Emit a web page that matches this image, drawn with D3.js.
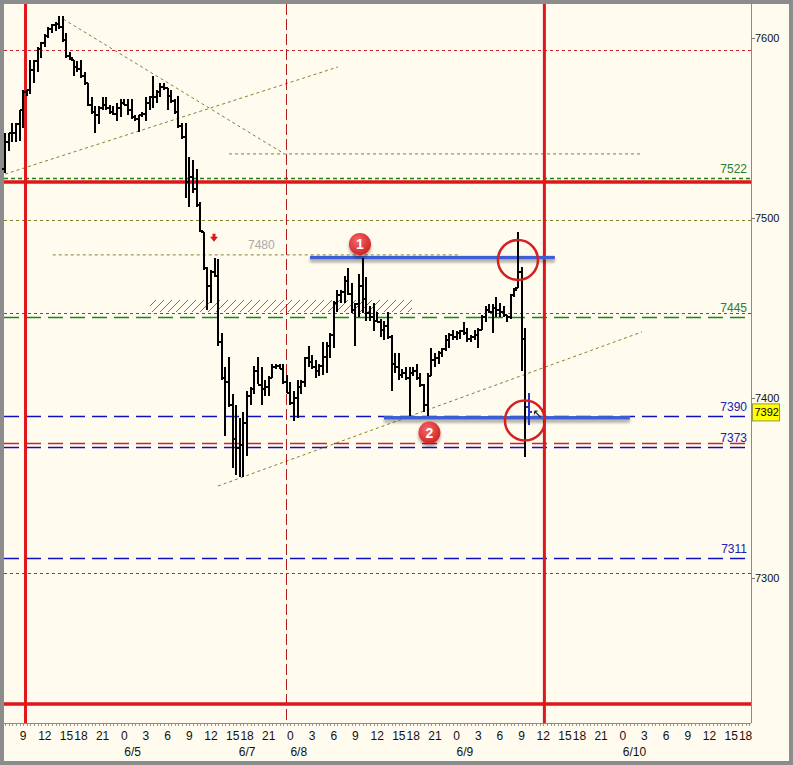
<!DOCTYPE html>
<html><head><meta charset="utf-8">
<script src="https://cdn.jsdelivr.net/npm/d3@7"></script>
<style>body{margin:0;background:#8c8c8c}svg{display:block}</style>
</head><body><svg id="c" width="793" height="765"></svg>
<script>
// ---------- DATA ----------
// 30-minute OHLC bars, first bar at trading-hour index -2.5 (6/4 06:30); x unit = trading hour from 6/4 09:00
const barStartSlot = -2.5;
const barStep = 0.5;
const opens = [7527,7542,7547,7547,7552,7560,7570,7571,7582,7587,7594,7597,7601,7605,7607,7608,7606,7599,7590,7588,
7584,7583,7579,7575,7563,7559,7557,7561,7563,7561,7559,7558,7561,7564,7563,7560,7556,7555,7557,7558,
7564,7567,7567,7570,7573,7572,7568,7565,7559,7551,7545,7520,7523,7516,7507,7492,7472,7462,7470,7468,
7431,7411,7409,7396,7377,7372,7374,7386,7401,7405,7415,7407,7405,7406,7411,7417,7418,7416,7409,7403,
7397,7400,7406,7409,7422,7420,7417,7415,7418,7423,7429,7435,7453,7457,7459,7465,7458,7449,7452,7462,
7455,7447,7445,7443,7442,7438,7440,7434,7419,7417,7413,7414,7411,7414,7415,7411,7407,7396,7412,7421,
7422,7425,7427,7432,7435,7434,7436,7437,7436,7433,7434,7435,7438,7445,7449,7448,7450,7449,7448,7446,
7445,7457,7461,7470,7433,7395];
const highs = [7547,7547,7553,7553,7560,7571,7571,7588,7588,7595,7598,7602,7606,7608,7609,7612,7612,7603,7592,7588,
7587,7588,7581,7575,7567,7562,7562,7567,7567,7563,7562,7564,7566,7566,7566,7566,7557,7557,7559,7567,
7568,7579,7571,7575,7575,7572,7571,7566,7568,7553,7553,7534,7532,7527,7509,7492,7473,7471,7478,7477,
7436,7417,7423,7402,7396,7389,7392,7404,7406,7418,7423,7417,7410,7412,7419,7419,7419,7419,7413,7409,
7404,7410,7410,7423,7429,7424,7421,7419,7431,7431,7436,7454,7460,7460,7468,7472,7464,7453,7469,7478,
7467,7451,7453,7448,7444,7443,7448,7435,7425,7425,7416,7417,7417,7417,7419,7414,7408,7414,7428,7425,
7426,7428,7435,7436,7438,7437,7438,7442,7439,7435,7438,7439,7446,7451,7452,7452,7456,7453,7451,7446,
7458,7461,7492,7473,7439,7403];
const lows = [7525,7537,7542,7542,7543,7550,7568,7569,7575,7581,7589,7595,7600,7603,7604,7605,7598,7589,7588,7579,
7581,7578,7574,7562,7558,7547,7552,7560,7560,7558,7557,7554,7556,7563,7557,7555,7554,7548,7556,7554,
7560,7561,7564,7567,7571,7560,7564,7558,7550,7544,7511,7506,7514,7506,7492,7471,7449,7453,7467,7429,
7410,7379,7395,7361,7357,7356,7356,7368,7396,7402,7408,7396,7401,7401,7411,7416,7416,7408,7403,7396,
7387,7389,7402,7406,7417,7416,7411,7412,7413,7414,7422,7428,7448,7453,7453,7457,7447,7429,7445,7447,
7443,7443,7437,7442,7434,7432,7433,7404,7414,7410,7411,7410,7390,7412,7410,7406,7392,7390,7412,7417,
7419,7423,7426,7428,7432,7432,7433,7435,7431,7431,7432,7428,7438,7442,7447,7436,7445,7445,7445,7442,
7444,7456,7461,7415,7367,7385];
const closes = [7542,7547,7547,7552,7560,7570,7571,7582,7587,7594,7597,7601,7605,7607,7608,7606,7599,7590,7589,7584,
7583,7579,7575,7563,7559,7557,7561,7563,7561,7559,7558,7561,7564,7563,7560,7556,7555,7557,7558,7564,
7567,7567,7570,7573,7572,7568,7565,7559,7551,7545,7520,7523,7516,7507,7493,7472,7462,7470,7468,7431,
7411,7409,7396,7377,7372,7374,7386,7401,7405,7415,7407,7405,7406,7411,7417,7418,7416,7409,7403,7397,
7400,7406,7409,7422,7420,7417,7415,7418,7423,7429,7435,7453,7457,7459,7465,7458,7449,7452,7462,7455,
7447,7445,7443,7442,7438,7440,7434,7419,7417,7413,7414,7411,7414,7415,7411,7407,7396,7412,7421,7422,
7425,7427,7432,7435,7434,7436,7437,7436,7433,7434,7435,7438,7445,7449,7448,7450,7449,7448,7446,7445,
7457,7460,7470,7433,7395,7392];
const lastPrice = 7392;

// axis labels
const priceTicks = [7600, 7500, 7400, 7300];
// trading sessions (hours that have bars); hour 17 is the daily break
const sessionDays = ["6/4","6/5","6/7","6/8","6/9","6/10"];
const sessionHours = {
  "6/4": [0,1,2,3,4,5,6,7,8,9,10,11,12,13,14,15,16,18,19,20,21,22,23],
  "6/5": [0,1,2,3,4,5,6,7,8,9,10,11,12,13,14,15,16],
  "6/7": [18,19,20,21,22,23],
  "6/8": [0,1,2,3,4,5,6,7,8,9,10,11,12,13,14,15,16,18,19,20,21,22,23],
  "6/9": [0,1,2,3,4,5,6,7,8,9,10,11,12,13,14,15,16,18,19,20,21,22,23],
  "6/10":[0,1,2,3,4,5,6,7,8,9,10,11,12,13,14,15,16,18,19,20,21,22,23]
};
const hourTicks = [["6/4",9],["6/4",12],["6/4",15],["6/4",18],["6/4",21],
  ["6/5",0],["6/5",3],["6/5",6],["6/5",9],["6/5",12],["6/5",15],["6/7",18],["6/7",21],
  ["6/8",0],["6/8",3],["6/8",6],["6/8",9],["6/8",12],["6/8",15],["6/8",18],["6/8",21],
  ["6/9",0],["6/9",3],["6/9",6],["6/9",9],["6/9",12],["6/9",15],["6/9",18],["6/9",21],
  ["6/10",0],["6/10",3],["6/10",6],["6/10",9],["6/10",12],["6/10",15],["6/10",18]];
const dateLabels = [["6/5",0,"start"],["6/7",18,"middle"],["6/8",0,"start"],["6/9",0,"start"],["6/10",0,"start"]];

// levels
const redThickLevels = [7520, 7230];
const redThickTimes = [0.33, 72.15];
const redDashTimes = [36.4];
const redDottedLevels = [7593.3, 7447.2, 7302.8];
const redDashedLevels = [7375];
const oliveFullLevels = [7499];
const greenLevels = [7522, 7445];
const greenLabels = ["7522", "7445"];
const blueLevels = [7390, 7373, 7311];
const blueLabels = ["7390", "7373", "7311"];
const oliveSegments = [[28.5, 7535.6, 85.65, 7535.6], [4.1, 7479.5, 60.5, 7479.5],
  [5.56, 7610.5, 35.97, 7536.1], [-2.5, 7524.4, 43.58, 7583.9], [26.97, 7351.1, 85.65, 7436.7]];
const hatchZone = [17.56, 53.82, 7454.4, 7447.8];
const blueSegments = [[39.7, 73.6, 7478], [49.94, 83.99, 7389]];
const circleMarks = [[68.49, 7476.7], [69.46, 7387.5]];
const badges = [[46.62, 7485.6, "1"], [56.24, 7380.8, "2"]];
const redArrow = [26.42, 7489];
const grayNote = [31.12, 7484.4, "7480"];
const cursorMark = [71.2, 7391];

// ---------- helpers ----------
const allSlots = [];
sessionDays.forEach(d => sessionHours[d].forEach(h => allSlots.push(d + " " + h)));
const originIdx = allSlots.indexOf("6/4 9");
const slotOf = (d, h) => allSlots.indexOf(d + " " + h) - originIdx;

const svg = d3.select("#c");
const W = 793, H = 765;
const L = 4, R = 751, T = 4, B = 723;
const x = d3.scaleLinear().domain([-2.65, 100.75]).range([L, R]);
const y = d3.scaleLinear().domain([7600, 7300]).range([38, 578]);
const font = "'Liberation Sans', Arial, sans-serif";

const defs = svg.append("defs");
const pat = defs.append("pattern").attr("id","hatch").attr("patternUnits","userSpaceOnUse")
  .attr("width",8).attr("height",8);
pat.append("path").attr("d","M-1,9 L9,-1 M-1,1 L1,-1 M7,9 L9,7").attr("stroke","#3a9a3a").attr("stroke-width",1);
function makeShadow(id, userSpace) {
  const f = defs.append("filter").attr("id", id);
  if (userSpace) f.attr("filterUnits","userSpaceOnUse").attr("x",0).attr("y",0).attr("width",W).attr("height",H);
  else f.attr("x","-50%").attr("y","-50%").attr("width","200%").attr("height","200%");
  f.append("feGaussianBlur").attr("in","SourceAlpha").attr("stdDeviation",1.6).attr("result","b");
  f.append("feOffset").attr("in","b").attr("dy",3).attr("result","o");
  f.append("feComponentTransfer").attr("in","o").attr("result","o2").append("feFuncA").attr("type","linear").attr("slope",0.35);
  const mm = f.append("feMerge"); mm.append("feMergeNode").attr("in","o2"); mm.append("feMergeNode").attr("in","SourceGraphic");
}
makeShadow("shadow", true);
makeShadow("shadowB", false);
const rg = defs.append("radialGradient").attr("id","badge").attr("cx","40%").attr("cy","35%").attr("r","65%");
rg.append("stop").attr("offset","0%").attr("stop-color","#f46a6a");
rg.append("stop").attr("offset","100%").attr("stop-color","#d42424");

// background
svg.append("rect").attr("x",0).attr("y",0).attr("width",W).attr("height",H).attr("fill","#8c8c8c");
svg.append("rect").attr("x",4).attr("y",4).attr("width",785).attr("height",757).attr("fill","#fffbef");

const plot = svg.append("g");
const hline = (v, color, dash, w, x1 = L, x2 = R) => plot.append("line")
  .attr("x1", x1).attr("x2", x2).attr("y1", Math.round(y(v)) + 0.5).attr("y2", Math.round(y(v)) + 0.5)
  .attr("stroke", color).attr("stroke-width", w).attr("stroke-dasharray", dash);

// hatch zone
plot.append("rect").attr("x", x(hatchZone[0])).attr("width", x(hatchZone[1]) - x(hatchZone[0]))
  .attr("y", y(hatchZone[2])).attr("height", y(hatchZone[3]) - y(hatchZone[2])).attr("fill","url(#hatch)");

// horizontal levels
oliveFullLevels.forEach(v => hline(v, "#80822a", "3,3", 1));
redDottedLevels.forEach(v => hline(v, "#c8242a", "3,3", 1));
redDashedLevels.forEach(v => hline(v, "#d42020", "15,7", 1.4));
greenLevels.forEach((v, i) => hline(v, "#118a11", i === 0 ? "4,3" : "15,7", 1.4));
blueLevels.forEach(v => hline(v, "#1010c0", "15,7", 1.4));

// olive dotted segments / trendlines
oliveSegments.forEach(s => plot.append("line").attr("x1", x(s[0])).attr("y1", y(s[1])).attr("x2", x(s[2])).attr("y2", y(s[3]))
  .attr("stroke","#80822a").attr("stroke-width",1).attr("stroke-dasharray","3,3"));

// vertical lines
redDashTimes.forEach(t => plot.append("line").attr("x1", Math.round(x(t))+0.5).attr("x2", Math.round(x(t))+0.5).attr("y1", T).attr("y2", B)
  .attr("stroke","#b01c1c").attr("stroke-width",1).attr("stroke-dasharray","11,4").attr("shape-rendering","crispEdges"));
redThickTimes.forEach(t => plot.append("line").attr("x1", x(t)).attr("x2", x(t)).attr("y1", T).attr("y2", B)
  .attr("stroke","#e0161b").attr("stroke-width",3));
redThickLevels.forEach(v => plot.append("line").attr("x1", L).attr("x2", R).attr("y1", y(v)).attr("y2", y(v))
  .attr("stroke","#e0161b").attr("stroke-width",3.5));

// level labels
greenLevels.forEach((v, i) => plot.append("text").attr("x", 747).attr("y", y(v) - 5).attr("text-anchor","end")
  .attr("font-family", font).attr("font-size", 12).attr("fill", "#2a7d2a").text(greenLabels[i]));
blueLevels.forEach((v, i) => plot.append("text").attr("x", 747).attr("y", y(v) - 5).attr("text-anchor","end")
  .attr("font-family", font).attr("font-size", 12).attr("fill", "#2020b0").text(blueLabels[i]));
plot.append("text").attr("x", x(grayNote[0])).attr("y", y(grayNote[1])).attr("dominant-baseline","middle")
  .attr("font-family", font).attr("font-size", 12).attr("fill", "#a9a9a9").text(grayNote[2]);

// blue thick segments (with soft shadow)
blueSegments.forEach(s => plot.append("rect").attr("x", x(s[0])).attr("width", x(s[1]) - x(s[0]))
  .attr("y", y(s[2]) - 1.75).attr("height", 3.5)
  .attr("fill","#3d5fd4").attr("filter","url(#shadow)"));

// OHLC bars
const bars = opens.map((o, k) => ({t: barStartSlot + barStep * k, o, h: highs[k], l: lows[k], c: closes[k]}));
plot.append("g").selectAll("path").data(bars).join("path")
  .attr("d", d => {
    const cx = Math.round(x(d.t));
    const yo = Math.round(y(d.o)), yc = Math.round(y(d.c));
    return `M${cx},${Math.round(y(d.h))}V${Math.round(y(d.l))}M${cx-3},${yo}H${cx}M${cx},${yc}H${cx+3}`;
  })
  .attr("fill","none").attr("stroke", (d, k) => k === bars.length - 1 ? "#2233cc" : "#000")
  .attr("stroke-width", 2).attr("shape-rendering","crispEdges");

// red circles
circleMarks.forEach(c => plot.append("circle").attr("cx", x(c[0])).attr("cy", y(c[1])).attr("r", 20)
  .attr("fill","none").attr("stroke","#d42020").attr("stroke-width",2.5));

// badges
badges.forEach(b => {
  const g = plot.append("g").attr("transform", `translate(${x(b[0])},${y(b[1])})`);
  g.append("circle").attr("r", 11).attr("fill","url(#badge)").attr("filter","url(#shadowB)");
  g.append("text").attr("text-anchor","middle").attr("dy", 5).attr("font-family", font).attr("font-weight","bold")
    .attr("font-size", 14).attr("fill","#fff").text(b[2]);
});

// small red arrow
{
  const ax = x(redArrow[0]), ay = y(redArrow[1]);
  plot.append("path").attr("d", `M${ax-4},${ay-1}L${ax+4},${ay-1}L${ax},${ay+4}Z M${ax-1.5},${ay-4}H${ax+1.5}V${ay-1}H${ax-1.5}Z`)
    .attr("fill","#e0161b");
}
// small cursor mark
{
  const cx = x(cursorMark[0]), cy = y(cursorMark[1]);
  plot.append("path").attr("d", `M${cx-3},${cy-3}L${cx+3},${cy+3}M${cx-3},${cy-3}h3M${cx-3},${cy-3}v3`)
    .attr("stroke","#222").attr("stroke-width",1.2).attr("fill","none");
}

// axes frame
svg.append("line").attr("x1", R + 0.5).attr("x2", R + 0.5).attr("y1", T).attr("y2", B).attr("stroke","#8a8a8a");
svg.append("line").attr("x1", L).attr("x2", R).attr("y1", B + 0.5).attr("y2", B + 0.5).attr("stroke","#8a8a8a");

// right price axis
priceTicks.forEach(v => {
  svg.append("line").attr("x1", R).attr("x2", R + 4).attr("y1", Math.round(y(v)) + 0.5).attr("y2", Math.round(y(v)) + 0.5).attr("stroke","#777");
  svg.append("text").attr("x", R + 4).attr("y", y(v) + 4).attr("font-family", font).attr("font-size", 11).attr("fill","#111").text(v);
});
// last price box
svg.append("rect").attr("x", R + 1.5).attr("y", y(lastPrice) - 8.5).attr("width", 27).attr("height", 17)
  .attr("fill","#ffff00").attr("stroke","#9a9a40").attr("stroke-width",1);
svg.append("text").attr("x", R + 3.5).attr("y", y(lastPrice) + 4).attr("font-family", font).attr("font-size", 11).attr("fill","#000").text(lastPrice);

// bottom time axis minor ticks (every bar slot)
const minor = d3.range(-2.5, 101, 0.5);
svg.append("g").selectAll("line").data(minor).join("line")
  .attr("x1", d => Math.round(x(d)) + 0.5).attr("x2", d => Math.round(x(d)) + 0.5)
  .attr("y1", B + 1).attr("y2", B + 3).attr("stroke","#999");
svg.append("g").selectAll("text").data(hourTicks).join("text")
  .attr("x", d => x(slotOf(d[0], d[1]))).attr("y", 740).attr("text-anchor","middle")
  .attr("font-family", font).attr("font-size", 12).attr("fill","#111").text(d => d[1]);
svg.append("g").selectAll("text").data(dateLabels).join("text")
  .attr("x", d => x(slotOf(d[0], d[1]))).attr("y", 756).attr("text-anchor", d => d[2])
  .attr("font-family", font).attr("font-size", 12).attr("fill","#111").text(d => d[0]);
</script></body></html>
